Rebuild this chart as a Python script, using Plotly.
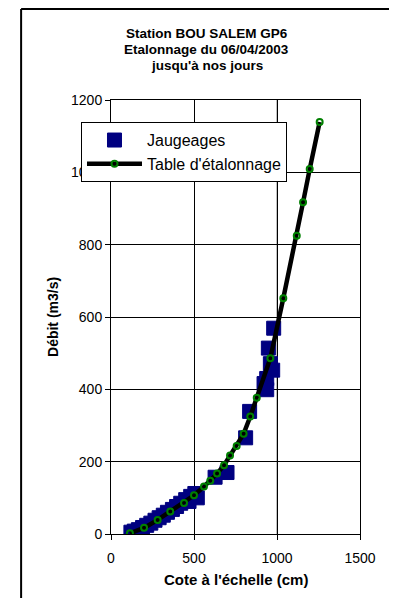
import plotly.graph_objects as go

# Jaugeages (gaugings): cote (cm) / débit (m3/s)
jaug_cote = [120, 140, 165, 190, 215, 240, 265, 290, 315, 340, 370, 395, 420,
             450, 480, 505, 520, 470, 627, 699, 811, 835, 922, 938, 938, 960,
             974, 948, 980]
jaug_debit = [5, 8, 12, 18, 24, 30, 38, 45, 52, 60, 68, 76, 85,
              95, 104, 112, 100, 90, 157, 170, 266, 339, 416, 399, 430, 471,
              453, 514, 569]

# Table d'étalonnage (rating curve)
table_cote = [114, 199, 281, 357, 440, 500, 560, 598, 639, 681, 717, 757, 799,
              839, 878, 960, 1038, 1119, 1157, 1197, 1257]
table_debit = [2, 17, 39, 62, 86, 107, 131, 147, 167, 190, 217, 243, 277,
               325, 377, 486, 652, 825, 917, 1009, 1139]

FONT = "Liberation Sans, Arial, sans-serif"

fig = go.Figure()

fig.add_trace(go.Scatter(
    x=jaug_cote, y=jaug_debit,
    mode="markers",
    name="Jaugeages",
    marker=dict(symbol="square", size=14, color="#000080",
                line=dict(color="#000080", width=1)),
))

fig.add_trace(go.Scatter(
    x=table_cote, y=table_debit,
    mode="lines+markers",
    name="Table d'étalonnage",
    line=dict(color="black", width=4.5),
    marker=dict(symbol="circle-open", size=6, color="#008000",
                line=dict(color="#008000", width=2)),
))

# the 1000 cm gridline is drawn grey in the original chart
fig.add_shape(type="line", xref="x", yref="y", x0=1000, x1=1000, y0=0, y1=1200,
              line=dict(color="#808080", width=1), layer="below")

# outer chart frame (only its left and top edges are in the picture)
fig.add_shape(type="line", xref="paper", yref="paper", x0=-0.361, x1=-0.361,
              y0=1.2097, y1=-0.2, line=dict(color="black", width=2))
fig.add_shape(type="line", xref="paper", yref="paper", x0=-0.361, x1=1.2,
              y0=1.2097, y1=1.2097, line=dict(color="black", width=2))

titles = ["Station BOU SALEM GP6", "Etalonnage du 06/04/2003", "jusqu'à nos jours"]
for txt, yp in zip(titles, [1.1525, 1.1164, 1.0806]):
    fig.add_annotation(text="<b>%s</b>" % txt, xref="paper", yref="paper",
                       x=0.3855, y=yp, xanchor="center", yanchor="middle",
                       showarrow=False, font=dict(family=FONT, size=13.5, color="black"))

fig.add_annotation(text="<b>Cote à l'échelle (cm)</b>", xref="paper", yref="paper",
                   x=0.5, y=-0.1037, xanchor="center", yanchor="middle",
                   showarrow=False, font=dict(family=FONT, size=15, color="black"))
fig.add_annotation(text="<b>Débit (m3/s)</b>", xref="paper", yref="paper",
                   x=-0.233, y=0.5, xanchor="center", yanchor="middle", textangle=-90,
                   showarrow=False, font=dict(family=FONT, size=14, color="black"))

fig.update_xaxes(range=[0, 1500], dtick=500, tick0=0,
                 showgrid=True, gridcolor="black", gridwidth=1,
                 showline=True, linecolor="black", linewidth=1, mirror=True,
                 ticks="outside", ticklen=5, tickcolor="black",
                 ticklabelstandoff=6,
                 zeroline=False,
                 tickfont=dict(family=FONT, size=14, color="black"))
fig.update_yaxes(range=[0, 1200], dtick=200, tick0=0,
                 showgrid=True, gridcolor="black", gridwidth=1,
                 showline=True, linecolor="black", linewidth=1, mirror=True,
                 ticks="outside", ticklen=5, tickcolor="black",
                 zeroline=False,
                 tickfont=dict(family=FONT, size=14, color="black"))

# page body has an 8px margin, so the margins are shifted to keep the plot in place
fig.update_layout(
    width=397, height=598,
    margin=dict(l=103, r=45, t=92, b=72),
    paper_bgcolor="white", plot_bgcolor="white",
    font=dict(family=FONT, color="black"),
    legend=dict(x=-0.1205, y=0.949, xanchor="left", yanchor="top",
                bgcolor="white", bordercolor="black", borderwidth=1,
                itemwidth=55, tracegroupgap=0,
                font=dict(family=FONT, size=16, color="black")),
)

fig.write_html("out.html")
